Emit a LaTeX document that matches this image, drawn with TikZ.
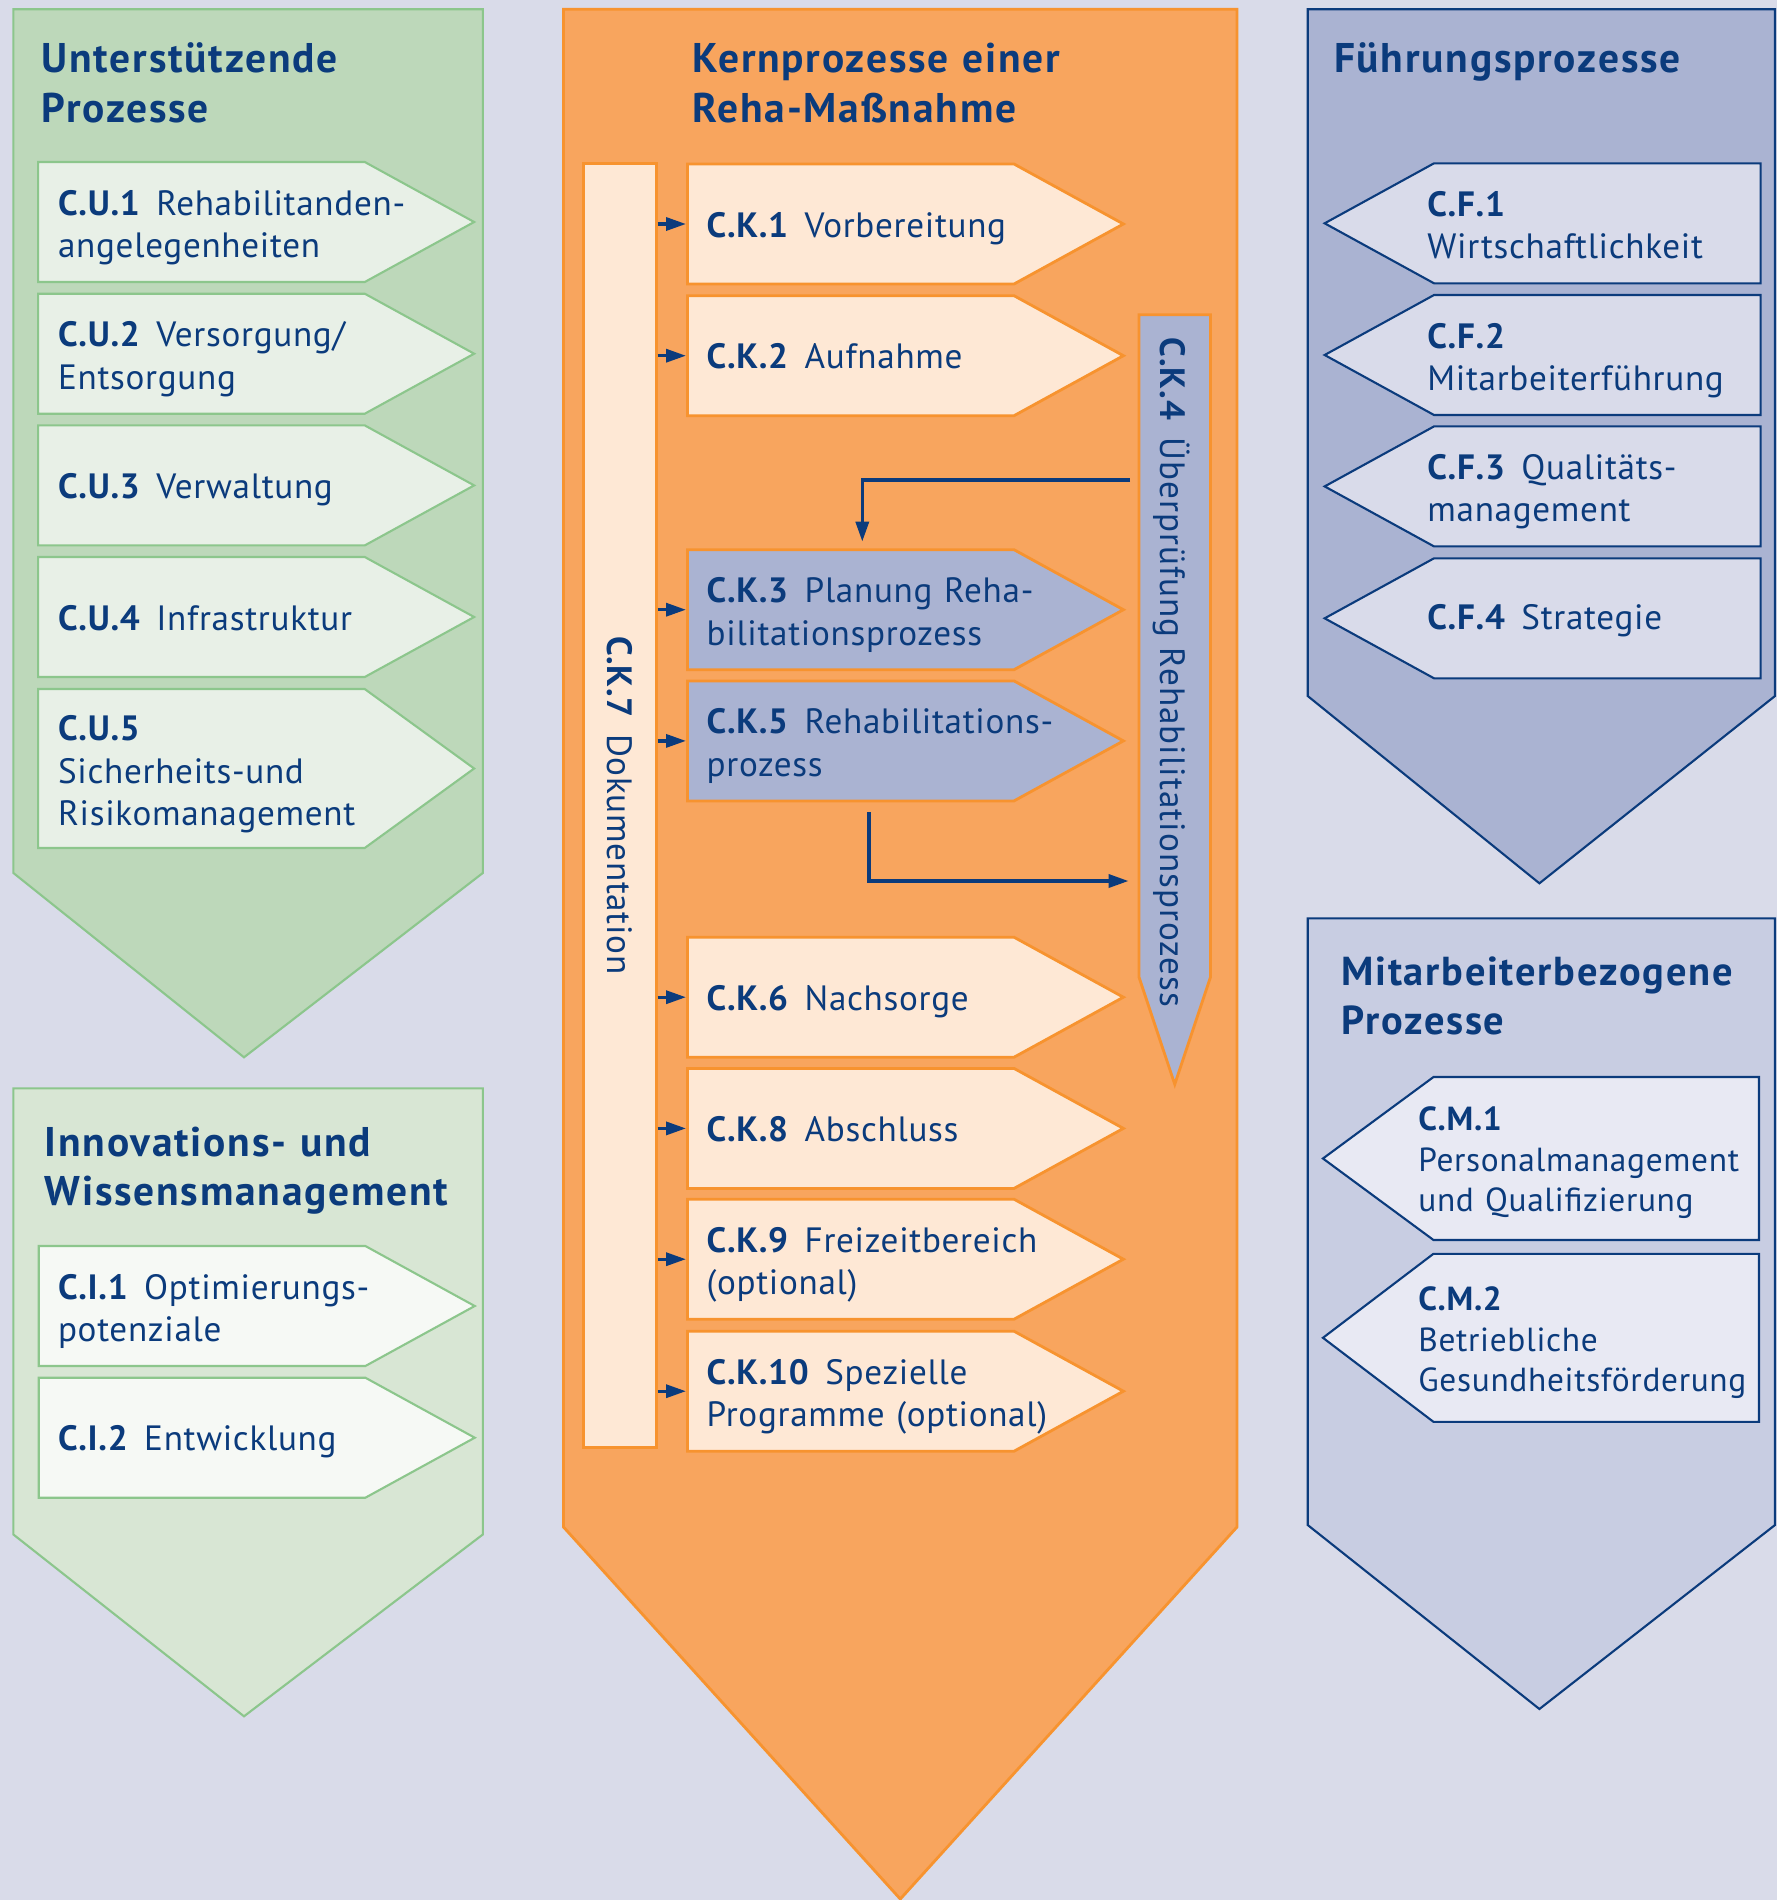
\documentclass[tikz,border=0pt]{standalone}
\usepackage{fontspec}
\setmainfont[LetterSpace=2]{PT Sans}
\usetikzlibrary{shapes.symbols,arrows.meta}

\definecolor{hintergrund}{HTML}{D9DBE9}
\definecolor{navy}{HTML}{0B3B7C}
\definecolor{gruenrand}{HTML}{8CC68C}
\definecolor{gruen}{HTML}{BDD8BA}
\definecolor{gruenhell}{HTML}{E8F0E7}
\definecolor{gruenzwei}{HTML}{D8E6D4}
\definecolor{gruenweiss}{HTML}{F6F9F5}
\definecolor{orange}{HTML}{F8A55E}
\definecolor{orangerand}{HTML}{F7932F}
\definecolor{pfirsich}{HTML}{FEE8D5}
\definecolor{lila}{HTML}{AAB3D2}
\definecolor{lilahell}{HTML}{D9DBEA}
\definecolor{mitarbeiter}{HTML}{C8CDE2}
\definecolor{mitarbeiterhell}{HTML}{E8E9F3}

\newcommand{\kennung}[1]{\textbf{#1}\hspace{0.45em}}

\begin{document}
\begin{tikzpicture}[x=0.1mm,y=-0.1mm,
  text node/.style={anchor=base west,align=left,text width=40mm,inner sep=0pt,
    text=navy,font=\fontsize{10}{12.1}\selectfont},
  title node/.style={anchor=base west,align=left,text width=60mm,inner sep=0pt,
    text=navy,font=\fontsize{11.8}{14.2}\selectfont\bfseries\addfontfeatures{LetterSpace=4.3}},
  right item/.style={signal,signal to=east,anchor=west,inner sep=0pt,
    minimum width=43.6mm,minimum height=12mm,signal pointer angle=57.5,line width=0.6pt},
  left item/.style={signal,signal to=west,anchor=east,inner sep=0pt,
    minimum width=43.6mm,minimum height=12mm,signal pointer angle=57.5,line width=0.6pt},
  green item/.style={right item,fill=gruenhell,draw=gruenrand},
  core item/.style={right item,fill=pfirsich,draw=orangerand,line width=0.8pt},
  pfeil/.style={draw=navy,line width=0.95pt,-{Triangle[length=2mm,width=1.3mm]}}]

  \path[use as bounding box,fill=hintergrund] (0,0) rectangle (1777,1900);

  % Unterstuetzende Prozesse
  \draw[fill=gruen,draw=gruenrand,line width=0.6pt]
    (13.4,9.3) -- (482.8,9.3) -- (482.8,873) -- (244,1057.3) -- (13.4,873) -- cycle;
  \node[title node] (tunter) at (41,72.7) {Unterstützende\\Prozesse};
  \node[green item] (cu1) at (37.1,222) {};
  \node[green item] (cu2) at (37.1,353.7) {};
  \node[green item] (cu3) at (37.1,485.4) {};
  \node[green item] (cu4) at (37.1,617) {};
  \node[green item,minimum height=15.9mm,signal pointer angle=72] (cu5) at (37.1,768.5) {};
  \node[text node] (cu1t) at (57.4,215) {\kennung{C.U.1}Rehabilitanden-\\angelegenheiten};
  \node[text node] (cu2t) at (57.4,346.7) {\kennung{C.U.2}Versorgung/\\Entsorgung};
  \node[text node] (cu3t) at (57.4,498.4) {\kennung{C.U.3}Verwaltung};
  \node[text node] (cu4t) at (57.4,630) {\kennung{C.U.4}Infrastruktur};
  \node[text node] (cu5t) at (57.4,740.5) {\textbf{C.U.5}\\Sicherheits-und\\Risikomanagement};

  % Innovations- und Wissensmanagement
  \draw[fill=gruenzwei,draw=gruenrand,line width=0.6pt]
    (13.4,1088.3) -- (482.8,1088.3) -- (482.8,1534.5) -- (244,1716.3) -- (13.4,1534.5) -- cycle;
  \node[title node] (tinno) at (44,1156) {Innovations- und\\Wissensmanagement};
  \node[green item,fill=gruenweiss] (ci1) at (37.7,1306) {};
  \node[green item,fill=gruenweiss] (ci2) at (37.7,1437.7) {};
  \node[text node] (ci1t) at (57.3,1299) {\kennung{C.I.1}Optimierungs-\\potenziale};
  \node[text node] (ci2t) at (57.3,1450.7) {\kennung{C.I.2}Entwicklung};

  % Kernprozesse
  \draw[fill=orange,draw=orangerand,line width=0.8pt]
    (563.5,9.3) -- (1237,9.3) -- (1237,1527) -- (900.3,1899) -- (563.5,1527) -- cycle;
  \node[title node] (tkern) at (692,72.7) {Kernprozesse einer\\Reha-Maßnahme};
  \node[rectangle,rotate=-90,fill=pfirsich,draw=orangerand,line width=0.8pt,
    minimum width=128.4mm,minimum height=7.26mm,text=navy,font=\fontsize{10}{12.1}\selectfont]
    (ck7) at (619.9,805.3) {\kennung{C.K.7}Dokumentation};
  \node[core item] (ck1) at (686,224) {};
  \node[core item] (ck2) at (686,355.7) {};
  \node[core item,fill=lila] (ck3) at (686,609.7) {};
  \node[core item,fill=lila] (ck5) at (686,740.9) {};
  \node[core item] (ck6) at (686,997.2) {};
  \node[core item] (ck8) at (686,1128.4) {};
  \node[core item] (ck9) at (686,1259.2) {};
  \node[core item] (ck10) at (686,1391.2) {};
  \node[text node] (ck1t) at (706,237.5) {\kennung{C.K.1}Vorbereitung};
  \node[text node] (ck2t) at (706,368.7) {\kennung{C.K.2}Aufnahme};
  \node[text node] (ck3t) at (706,602.7) {\kennung{C.K.3}Planung Reha-\\bilitationsprozess};
  \node[text node] (ck5t) at (706,733.9) {\kennung{C.K.5}Rehabilitations-\\prozess};
  \node[text node] (ck6t) at (706,1010.2) {\kennung{C.K.6}Nachsorge};
  \node[text node] (ck8t) at (706,1141.4) {\kennung{C.K.8}Abschluss};
  \node[text node] (ck9t) at (706,1252.2) {\kennung{C.K.9}Freizeitbereich\\(optional)};
  \node[text node] (ck10t) at (706,1384.2) {\kennung{C.K.10}Spezielle\\Programme (optional)};
  \node[signal,signal to=east,rotate=-90,anchor=west,inner sep=0pt,fill=lila,
    draw=orangerand,line width=0.8pt,minimum width=76.96mm,minimum height=7.15mm,
    signal pointer angle=36.9] (ck4) at (1174.75,313.3) {};
  \node[rotate=-90,anchor=base west,inner sep=0pt,text=navy,
    font=\fontsize{10}{12.1}\selectfont\addfontfeatures{LetterSpace=3}]
    (ck4t) at (1160,336.7) {\kennung{C.K.4}Überprüfung Rehabilitationsprozess};

  \path[every edge/.style={pfeil}]
    (ck7.north |- ck1.west) edge (ck1.west)
    (ck7.north |- ck2.west) edge (ck2.west)
    (ck7.north |- ck3.west) edge (ck3.west)
    (ck7.north |- ck5.west) edge (ck5.west)
    (ck7.north |- ck6.west) edge (ck6.west)
    (ck7.north |- ck8.west) edge (ck8.west)
    (ck7.north |- ck9.west) edge (ck9.west)
    (ck7.north |- ck10.west) edge (ck10.west);

  \coordinate (knick1) at (862.3,480);
  \coordinate (knick2) at (868.8,881);
  \draw[pfeil,line width=1pt,shorten <=0.75mm,shorten >=0.67mm]
    (ck4.south |- knick1) -- (knick1) -- (knick1 |- ck3.north);
  \draw[pfeil,line width=1pt,shorten <=1mm,shorten >=0.9mm]
    (knick2 |- ck5.south) -- (knick2) -- (knick2 -| ck4.south);

  % Fuehrungsprozesse
  \draw[fill=lila,draw=navy,line width=0.6pt]
    (1307.7,9.3) -- (1775,9.3) -- (1775,696) -- (1539.4,883.3) -- (1307.7,696) -- cycle;
  \node[title node] (tfuehr) at (1333.3,72.7) {Führungsprozesse};
  \node[left item,fill=lilahell,draw=navy] (cf1) at (1761.7,223.3) {};
  \node[left item,fill=lilahell,draw=navy] (cf2) at (1761.7,355) {};
  \node[left item,fill=lilahell,draw=navy] (cf3) at (1761.7,486.4) {};
  \node[left item,fill=lilahell,draw=navy] (cf4) at (1761.7,618.3) {};
  \node[text node] (cf1t) at (1426.7,216.3) {\textbf{C.F.1}\\Wirtschaftlichkeit};
  \node[text node] (cf2t) at (1426.7,348) {\textbf{C.F.2}\\Mitarbeiterführung};
  \node[text node] (cf3t) at (1426.7,479.4) {\kennung{C.F.3}Qualitäts-\\management};
  \node[text node] (cf4t) at (1426.7,629) {\kennung{C.F.4}Strategie};

  % Mitarbeiterbezogene Prozesse
  \draw[fill=mitarbeiter,draw=navy,line width=0.6pt]
    (1307.7,918.3) -- (1775,918.3) -- (1775,1525) -- (1539.4,1709) -- (1307.7,1525) -- cycle;
  \node[title node,font=\fontsize{11.5}{14.2}\selectfont\bfseries\addfontfeatures{LetterSpace=4.3}]
    (tmit) at (1340.7,985) {Mitarbeiterbezogene\\Prozesse};
  \node[left item,fill=mitarbeiterhell,draw=navy,minimum height=16.3mm,signal pointer angle=72.8]
    (cm1) at (1760,1158.5) {};
  \node[left item,fill=mitarbeiterhell,draw=navy,minimum height=16.8mm,signal pointer angle=74.5]
    (cm2) at (1760,1337.8) {};
  \node[text node,font=\fontsize{9.5}{11.6}\selectfont] (cm1t) at (1417.7,1130.4)
    {\textbf{C.M.1}\\Personalmanagement\\und Qualifizierung};
  \node[text node,font=\fontsize{9.5}{11.6}\selectfont] (cm2t) at (1417.7,1310.4)
    {\textbf{C.M.2}\\Betriebliche\\Gesundheitsförderung};
\end{tikzpicture}
\end{document}
